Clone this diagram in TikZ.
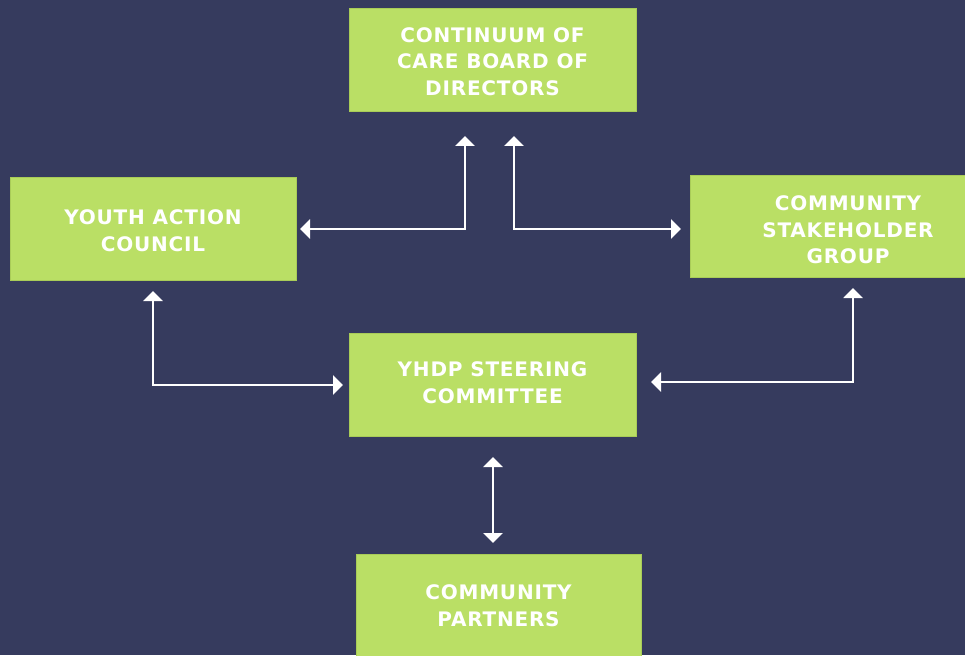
\documentclass[tikz,border=0pt]{standalone}
\usepackage{fontspec}
\setmainfont{DejaVu Sans}[LetterSpace=4]
\usetikzlibrary{arrows.meta}
\definecolor{bgblue}{HTML}{363B5E}
\definecolor{boxgreen}{HTML}{BADF65}
\definecolor{boxedge}{HTML}{A9CC58}
\newcommand{\boxtext}[2][0pt]{\raisebox{0pt}[\dimexpr\height+#1\relax][\depth]{\begin{tabular}{@{}c@{}}#2\end{tabular}}}
\begin{document}
\begin{tikzpicture}[x=1pt,y=-1pt,
  box/.style={fill=boxgreen,draw=boxedge,line width=0.8pt,minimum width=287pt,minimum height=103pt,
    inner sep=0pt,text=white,font=\fontsize{20}{26.5}\selectfont\bfseries},
  conn/.style={draw=white,line width=2.2pt,{Triangle[width=19pt,length=10pt]}-{Triangle[width=19pt,length=10pt]}}]
\fill[bgblue] (0,0) rectangle (965,655);
\useasboundingbox (0,0) rectangle (965,655);
\clip (0,0) rectangle (965,655);
\node[box] (top) at (492.5,59.5) {\boxtext[8pt]{CONTINUUM OF\\CARE BOARD OF\\DIRECTORS}};
\node[box,minimum width=286pt] (yac) at (153,228.5) {\boxtext[8pt]{YOUTH ACTION\\COUNCIL}};
\node[box,minimum width=316pt,minimum height=102pt] (csg) at (848,226) {\boxtext[12pt]{COMMUNITY\\STAKEHOLDER\\GROUP}};
\node[box] (ysc) at (492.5,384.5) {\boxtext{YHDP STEERING\\COMMITTEE}};
\node[box,minimum width=285pt] (cp) at (498.5,605.5) {\boxtext[4pt]{COMMUNITY\\PARTNERS}};
\coordinate (topL) at (465,136);
\coordinate (topR) at (514,136);
\coordinate (yacE) at (300,229);
\coordinate (csgW) at (681,229);
\coordinate (yacS) at (153,291);
\coordinate (yscW) at (343,385);
\coordinate (csgS) at (853,288);
\coordinate (yscE) at (651,382);
\coordinate (yscS) at (493,457);
\coordinate (cpN) at (493,543);
\draw[conn] (yacE) -| (topL);
\draw[conn] (topR) |- (csgW);
\draw[conn] (yacS) |- (yscW);
\draw[conn] (csgS) |- (yscE);
\draw[conn] (yscS) -- (cpN);
\end{tikzpicture}
\end{document}
